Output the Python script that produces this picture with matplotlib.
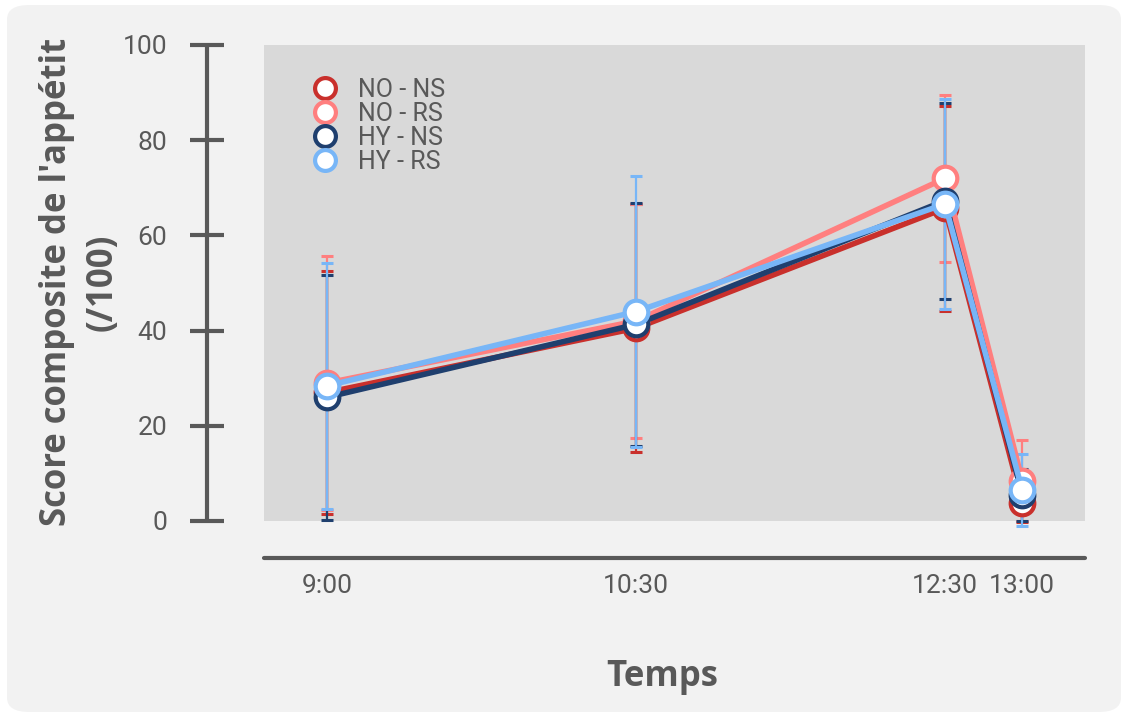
import matplotlib.pyplot as plt
from matplotlib.patches import FancyBboxPatch

times = ['9:00', '10:30', '12:30', '13:00']
x_pos = [0, 1, 2, 2.25]

groups = ['NO - NS', 'NO - RS', 'HY - NS', 'HY - RS']
colors = ['#c9302c', '#ff7f7f', '#1f3f6e', '#78b6f7']

no_ns = [27.0, 40.5, 65.7, 3.8]
no_rs = [29.0, 42.0, 72.0, 8.5]
hy_ns = [26.0, 41.3, 67.3, 5.5]
hy_rs = [28.4, 44.0, 66.6, 6.5]

no_ns_err = [25.5, 26.0, 21.5, 4.0]
no_rs_err = [26.7, 24.6, 17.5, 8.5]
hy_ns_err = [25.7, 25.5, 20.6, 5.5]
hy_rs_err = [25.8, 28.5, 22.0, 7.5]

means = [no_ns, no_rs, hy_ns, hy_rs]
errs = [no_ns_err, no_rs_err, hy_ns_err, hy_rs_err]

txt = '#595959'
num_font = 'Roboto'
lab_font = 'Open Sans'

fig = plt.figure(figsize=(11.24, 7.15), dpi=100)
fig.patch.set_facecolor('white')
fig.patches.append(FancyBboxPatch((7 / 1124, 3 / 715), 1114 / 1124, 707 / 715,
                                  boxstyle='round,pad=0,rounding_size=0.02',
                                  transform=fig.transFigure, facecolor='#f2f2f2',
                                  edgecolor='none', zorder=-10))

ax = fig.add_axes([264 / 1124, 194 / 715, 821 / 1124, 476 / 715])
ax.set_facecolor('#d9d9d9')

for m, e, c in zip(means, errs, colors):
    ax.errorbar(x_pos, m, yerr=e, fmt='none', ecolor=c, elinewidth=1.6,
                capsize=4.5, capthick=2.2, zorder=2, clip_on=False)

for i, (m, c, g) in enumerate(zip(means, colors, groups)):
    ax.plot(x_pos, m, '-o', color=c, lw=4, ms=17, mfc='white', mec=c, mew=3,
            label=g, zorder=3 + i, clip_on=False)

ax.set_xlim(-0.204, 2.453)
ax.set_ylim(0, 100)
ax.set_xticks(x_pos)
ax.set_xticklabels(times)
ax.set_yticks([0, 20, 40, 60, 80, 100])

for s in ['top', 'right']:
    ax.spines[s].set_visible(False)
ax.spines['left'].set_position(('outward', 41))
ax.spines['bottom'].set_position(('outward', 26.5))
for s in ['left', 'bottom']:
    ax.spines[s].set_color(txt)
    ax.spines[s].set_capstyle('round')
ax.spines['left'].set_linewidth(3)
ax.spines['bottom'].set_linewidth(3)

ax.tick_params(axis='y', direction='inout', length=25, width=3, color=txt,
               pad=16, labelsize=19, labelcolor=txt)
ax.tick_params(axis='x', length=0, pad=12, labelsize=19, labelcolor=txt)
for lbl in ax.get_xticklabels() + ax.get_yticklabels():
    lbl.set_fontfamily(num_font)

leg = ax.legend(loc='upper left', bbox_to_anchor=(0.022, 0.978), frameon=False,
                handlelength=1.6, handletextpad=0.55, labelspacing=0.0,
                prop={'family': num_font, 'size': 18})
for t in leg.get_texts():
    t.set_color(txt)
for h in leg.get_lines():
    h.set_linestyle('none')
    h.set_markersize(15)

fig.text(80 / 1124, 1 - 282 / 715, "Score composite de l'appétit\n(/100)",
         rotation=90, ha='center', va='center', multialignment='center',
         fontsize=25, fontweight='bold', color=txt, family=lab_font, linespacing=1.35)
fig.text(662 / 1124, 1 - 677 / 715, 'Temps', ha='center', va='center',
         fontsize=25, fontweight='bold', color=txt, family=lab_font)

fig.savefig('out.png', dpi=100, facecolor=fig.get_facecolor())
